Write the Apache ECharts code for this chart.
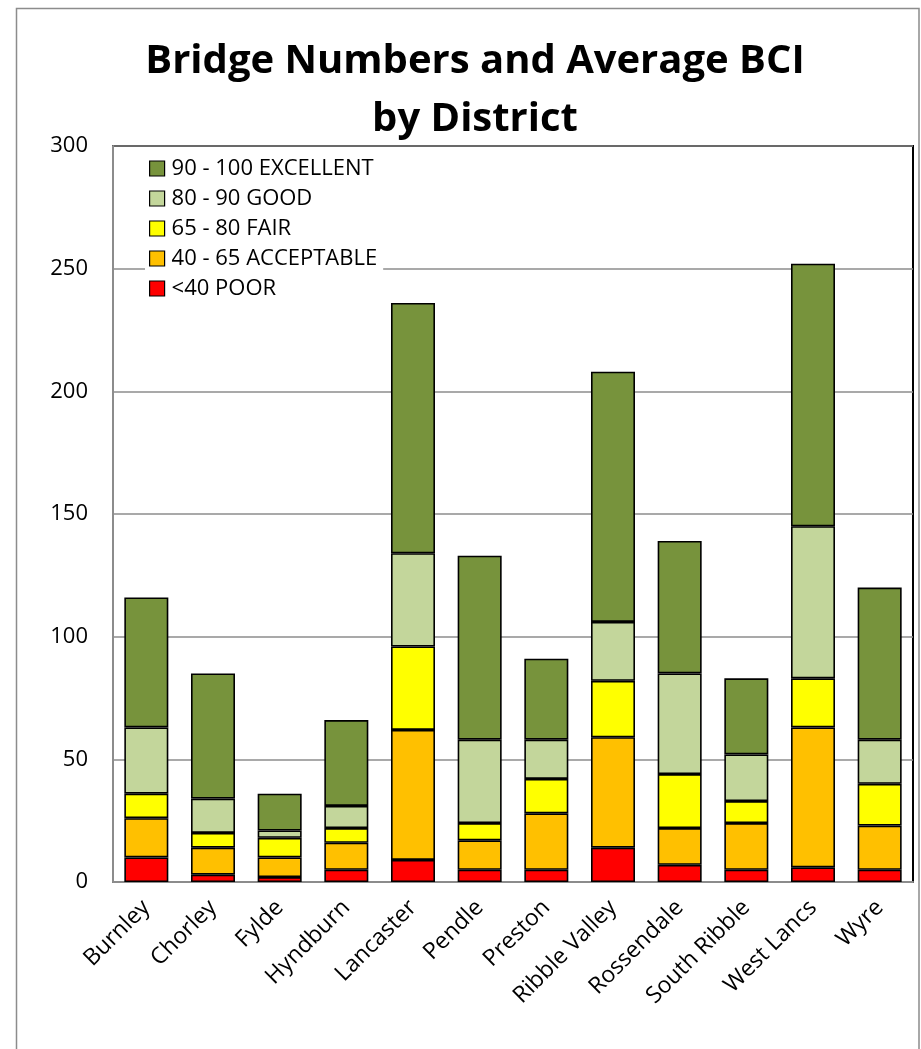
<!DOCTYPE html>
<html>
<head>
<meta charset="utf-8">
<title>Bridge Numbers and Average BCI by District</title>
<script src="https://cdn.jsdelivr.net/npm/echarts@6/dist/echarts.min.js"></script>
<style>
  html, body { margin: 0; padding: 0; background: #ffffff; }
  #chart { width: 921px; height: 1049px; }
</style>
</head>
<body>
<div id="chart"></div>
<script>
// Districts along the x axis
const districts = ['Burnley', 'Chorley', 'Fylde', 'Hyndburn', 'Lancaster', 'Pendle',
  'Preston', 'Ribble Valley', 'Rossendale', 'South Ribble', 'West Lancs', 'Wyre'];

// Number of bridges in each BCI condition band, per district
const poor       = [10, 3, 2, 5, 9, 5, 5, 14, 7, 5, 6, 5];
const acceptable = [16, 11, 8, 11, 53, 12, 23, 45, 15, 19, 57, 18];
const fair       = [10, 6, 8, 6, 34, 7, 14, 23, 22, 9, 20, 17];
const good       = [27, 14, 3, 9, 38, 34, 16, 24, 41, 19, 62, 18];
const excellent  = [53, 51, 15, 35, 102, 75, 33, 102, 54, 31, 107, 62];

// Band names and colours, bottom of the stack first
const bandNames = ['<40 POOR', '40 - 65 ACCEPTABLE', '65 - 80 FAIR', '80 - 90 GOOD', '90 - 100 EXCELLENT'];
const bandColors = ['#FF0000', '#FFC000', '#FFFF00', '#C3D69B', '#77933C'];
const bandValues = [poor, acceptable, fair, good, excellent];

const FONT = '"Open Sans", "Noto Sans", sans-serif';

const chart = echarts.init(document.getElementById('chart'), null, { renderer: 'canvas' });

const series = bandNames.map((name, i) => ({
  name: name,
  type: 'bar',
  stack: 'bridges',
  barWidth: 44,
  data: bandValues[i],
  itemStyle: { color: bandColors[i], borderColor: '#000000', borderWidth: 1.6 },
  emphasis: { disabled: true }
}));

chart.setOption({
  animation: false,
  backgroundColor: '#ffffff',
  textStyle: { fontFamily: FONT },
  graphic: [{
    type: 'rect',
    z: -10,
    silent: true,
    shape: { x: 16.5, y: 8.5, width: 902.5, height: 1100 },
    style: { fill: 'none', stroke: '#8c8c8c', lineWidth: 1.5 }
  }],
  title: {
    text: 'Bridge Numbers and Average BCI\nby District',
    left: 475,
    top: 33,
    textAlign: 'center',
    padding: 0,
    textStyle: {
      fontFamily: FONT,
      fontWeight: 'bold',
      fontSize: 40,
      lineHeight: 58,
      color: '#000000'
    }
  },
  legend: {
    orient: 'vertical',
    left: 145,
    top: 153,
    padding: [4, 6, 4, 4],
    icon: 'rect',
    itemWidth: 15,
    itemHeight: 15,
    itemGap: 7,
    backgroundColor: '#ffffff',
    data: bandNames.slice().reverse(),
    selectedMode: false,
    itemStyle: { borderColor: '#000000', borderWidth: 1.2 },
    textStyle: { fontFamily: FONT, fontSize: 22, lineHeight: 23, color: '#000000', padding: [0, 0, 0, 2] }
  },
  grid: {
    left: 113,
    right: 8,
    top: 146,
    bottom: 167,
    show: true,
    borderColor: '#000000',
    borderWidth: 2,
    backgroundColor: 'transparent'
  },
  xAxis: {
    type: 'category',
    data: districts,
    axisLine: { show: true, lineStyle: { color: '#8c8c8c', width: 2 } },
    axisTick: { show: false },
    axisLabel: {
      rotate: 45,
      margin: 22,
      interval: 0,
      fontFamily: FONT,
      fontSize: 23,
      color: '#000000'
    }
  },
  yAxis: {
    type: 'value',
    min: 0,
    max: 300,
    interval: 50,
    axisLine: { show: true, lineStyle: { color: '#8c8c8c', width: 2 } },
    axisTick: { show: false },
    splitLine: { show: true, lineStyle: { color: '#8c8c8c', width: 1.5 } },
    axisLabel: {
      margin: 25,
      fontFamily: FONT,
      fontSize: 22,
      color: '#000000'
    }
  },
  series: series
});
</script>
</body>
</html>
